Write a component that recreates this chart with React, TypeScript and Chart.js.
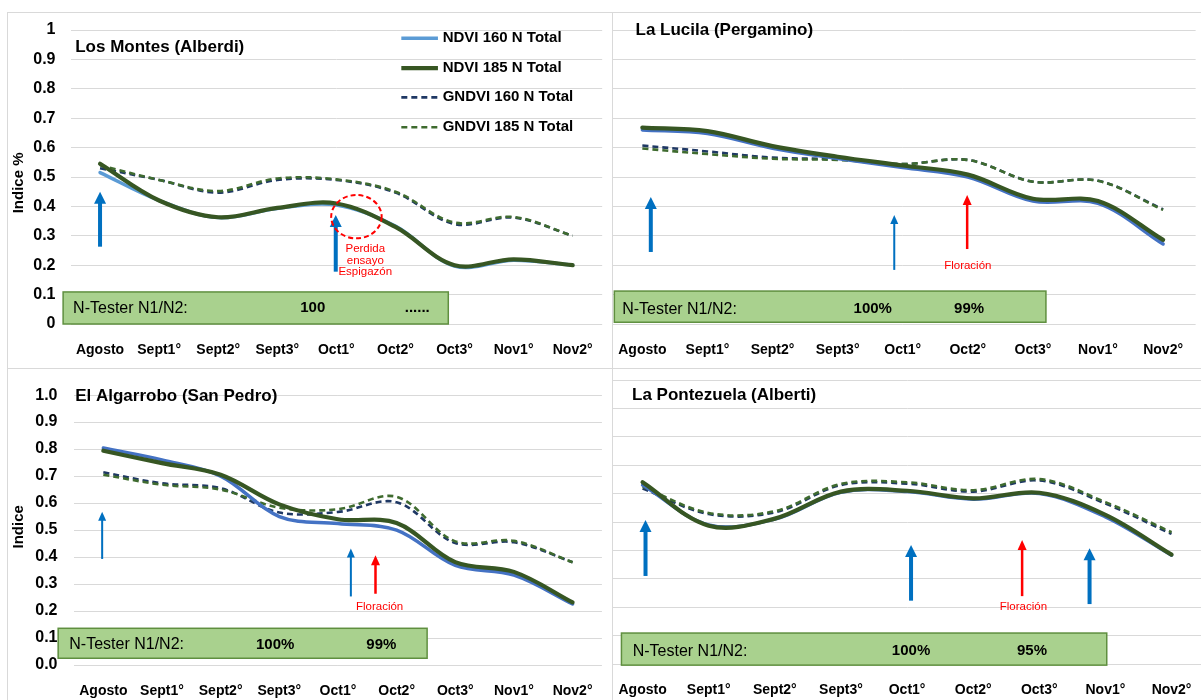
import React, { useEffect, useRef } from 'react';
import { Chart, registerables } from 'chart.js';

Chart.register(...registerables);

// ---------------- DATA ----------------
const categories = ['Agosto', 'Sept1°', 'Sept2°', 'Sept3°', 'Oct1°', 'Oct2°', 'Oct3°', 'Nov1°', 'Nov2°'];
const seriesNames = ['NDVI 160 N Total', 'NDVI 185 N Total', 'GNDVI 160 N Total', 'GNDVI 185 N Total'];

const losMontesNdvi160 = [0.515, 0.42, 0.362, 0.393, 0.405, 0.333, 0.197, 0.217, 0.2];
const losMontesNdvi185 = [0.545, 0.42, 0.363, 0.395, 0.41, 0.33, 0.2, 0.22, 0.2];
const losMontesGndvi160 = [0.53, 0.49, 0.447, 0.49, 0.49, 0.447, 0.34, 0.362, 0.3];
const losMontesGndvi185 = [0.54, 0.49, 0.452, 0.495, 0.492, 0.45, 0.345, 0.364, 0.3];

const laLucilaNdvi160 = [0.66, 0.648, 0.598, 0.563, 0.532, 0.5, 0.418, 0.41, 0.272];
const laLucilaNdvi185 = [0.668, 0.656, 0.605, 0.569, 0.539, 0.508, 0.426, 0.418, 0.286];
const laLucilaGndvi160 = [0.607, 0.587, 0.566, 0.56, 0.544, 0.558, 0.484, 0.487, 0.39];
const laLucilaGndvi185 = [0.597, 0.578, 0.562, 0.558, 0.544, 0.558, 0.484, 0.487, 0.388];

const algarroboNdvi160 = [0.804, 0.76, 0.7, 0.55, 0.524, 0.5, 0.369, 0.333, 0.226];
const algarroboNdvi185 = [0.794, 0.748, 0.705, 0.595, 0.54, 0.526, 0.381, 0.345, 0.232];
const algarroboGndvi160 = [0.714, 0.673, 0.655, 0.565, 0.567, 0.603, 0.452, 0.455, 0.381];
const algarroboGndvi185 = [0.705, 0.668, 0.65, 0.583, 0.577, 0.623, 0.458, 0.46, 0.381];

const pontezuelaNdvi160 = [0.63, 0.49, 0.51, 0.605, 0.607, 0.58, 0.6, 0.518, 0.383];
const pontezuelaNdvi185 = [0.64, 0.487, 0.512, 0.607, 0.61, 0.583, 0.603, 0.525, 0.385];
const pontezuelaGndvi160 = [0.618, 0.528, 0.534, 0.63, 0.635, 0.607, 0.646, 0.565, 0.458];
const pontezuelaGndvi185 = [0.624, 0.532, 0.538, 0.634, 0.64, 0.612, 0.651, 0.57, 0.464];

const yTickLabelsPlain = ['0', '0.1', '0.2', '0.3', '0.4', '0.5', '0.6', '0.7', '0.8', '0.9', '1'];
const yTickLabelsDecimal = ['0.0', '0.1', '0.2', '0.3', '0.4', '0.5', '0.6', '0.7', '0.8', '0.9', '1.0'];

const nTesterLabel = 'N-Tester N1/N2:';
const losMontesNTester = ['100', '......'];
const laLucilaNTester = ['100%', '99%'];
const algarroboNTester = ['100%', '99%'];
const pontezuelaNTester = ['100%', '95%'];

// ---------------- STYLE ----------------
const FONT = "'Liberation Sans', Arial, Helvetica, sans-serif";
const seriesColors = ['#5B9BD5', '#375623', '#1F3864', '#3F6B2F'];
const seriesWidths = [3.5, 4.2, 2.6, 2.6];
const seriesDashes: number[][] = [[], [], [6, 4], [6, 4]];
const seriesOrder = [2, 1, 4, 3];
const BLUE = '#0070C0';
const RED = '#FF0000';
const BOX_FILL = '#A9D18E';
const BOX_EDGE = '#5F8F3F';
const GRID = '#D9D9D9';

type Arrow = { i: number; from: number; to: number; color: string; shaft: number; headW: number; headL: number };
type Note = { i: number; v: number; text: string; color: string; font: string; align: CanvasTextAlign };

const THICK = { shaft: 4, headW: 12, headL: 12 };
const THIN = { shaft: 2, headW: 8, headL: 9 };
const MED = { shaft: 2.5, headW: 9, headL: 10 };

type Spec = {
  title: string;
  values: number[][];
  ndvi160Color: string;
  clip: { l: number; t: number; w: number; h: number };
  canvas: { l: number; t: number; w: number; h: number };
  area: { L: number; R: number; T: number; B: number };
  showY: boolean;
  yLabels: string[];
  yTickPad: number;
  xTickPad: number;
  yTitle?: { text: string; x: number; v: number };
  titlePos: { i: number; v: number };
  box: { i0: number; i1: number; v0: number; v1: number };
  boxTexts: { i: number; text: string; bold: boolean; align: CanvasTextAlign }[];
  boxTextV: number;
  arrows: Arrow[];
  notes: Note[];
  ellipse?: { i: number; v: number; ri: number; rv: number };
  legend?: { i0: number; i1: number; iText: number; rows: number[] };
};

const redNote = `11.5px ${FONT}`;

const specs: Spec[] = [
  {
    title: 'Los Montes (Alberdi)',
    values: [losMontesNdvi160, losMontesNdvi185, losMontesGndvi160, losMontesGndvi185],
    ndvi160Color: '#5B9BD5',
    clip: { l: 0, t: 0, w: 611, h: 368 },
    canvas: { l: 0, t: 0, w: 611, h: 368 },
    area: { L: 70.5, R: 603, T: 30, B: 324 },
    showY: true,
    yLabels: yTickLabelsPlain,
    yTickPad: 15,
    xTickPad: 18,
    yTitle: { text: 'Indice %', x: 18.5, v: 0.48 },
    titlePos: { i: -0.42, v: 0.942 },
    box: { i0: -0.625, i1: 5.895, v0: 0.109, v1: 0 },
    boxTexts: [
      { i: -0.456, text: nTesterLabel, bold: false, align: 'left' },
      { i: 3.6, text: losMontesNTester[0], bold: true, align: 'center' },
      { i: 5.37, text: losMontesNTester[1], bold: true, align: 'center' },
    ],
    boxTextV: 0.054,
    arrows: [
      { i: 0, from: 0.263, to: 0.45, color: BLUE, ...THICK },
      { i: 3.99, from: 0.178, to: 0.371, color: BLUE, ...THICK },
    ],
    notes: [
      { i: 4.49, v: 0.254, text: 'Perdida', color: RED, font: redNote, align: 'center' },
      { i: 4.49, v: 0.215, text: 'ensayo', color: RED, font: redNote, align: 'center' },
      { i: 4.49, v: 0.177, text: 'Espigazón', color: RED, font: redNote, align: 'center' },
    ],
    ellipse: { i: 4.34, v: 0.365, ri: 0.427, rv: 0.0737 },
    legend: { i0: 5.1, i1: 5.72, iText: 5.8, rows: [0.972, 0.87, 0.771, 0.669] },
  },
  {
    title: 'La Lucila (Pergamino)',
    values: [laLucilaNdvi160, laLucilaNdvi185, laLucilaGndvi160, laLucilaGndvi185],
    ndvi160Color: '#4472C4',
    clip: { l: 612, t: 0, w: 589, h: 368 },
    canvas: { l: 600, t: 0, w: 601, h: 368 },
    area: { L: 608.5, R: 1200, T: 30, B: 324 },
    showY: false,
    yLabels: yTickLabelsPlain,
    yTickPad: 15,
    xTickPad: 18,
    titlePos: { i: -0.105, v: 1.0 },
    box: { i0: -0.43, i1: 6.2, v0: 0.112, v1: 0.006 },
    boxTexts: [
      { i: -0.31, text: nTesterLabel, bold: false, align: 'left' },
      { i: 3.54, text: laLucilaNTester[0], bold: true, align: 'center' },
      { i: 5.02, text: laLucilaNTester[1], bold: true, align: 'center' },
    ],
    boxTextV: 0.05,
    arrows: [
      { i: 0.13, from: 0.245, to: 0.432, color: BLUE, ...THICK },
      { i: 3.87, from: 0.184, to: 0.371, color: BLUE, ...THIN },
      { i: 4.99, from: 0.255, to: 0.439, color: RED, ...MED },
    ],
    notes: [{ i: 5.0, v: 0.197, text: 'Floración', color: RED, font: redNote, align: 'center' }],
  },
  {
    title: 'El Algarrobo (San Pedro)',
    values: [algarroboNdvi160, algarroboNdvi185, algarroboGndvi160, algarroboGndvi185],
    ndvi160Color: '#4472C4',
    clip: { l: 0, t: 369, w: 611, h: 331 },
    canvas: { l: 0, t: 369, w: 611, h: 331 },
    area: { L: 74, R: 602, T: 385, B: 665 },
    showY: true,
    yLabels: yTickLabelsDecimal,
    yTickPad: 16.5,
    xTickPad: 18,
    yTitle: { text: 'Indice', x: 19, v: 0.512 },
    titlePos: { i: -0.48, v: 0.994 },
    box: { i0: -0.77, i1: 5.52, v0: 0.136, v1: 0.025 },
    boxTexts: [
      { i: -0.58, text: nTesterLabel, bold: false, align: 'left' },
      { i: 2.93, text: algarroboNTester[0], bold: true, align: 'center' },
      { i: 4.74, text: algarroboNTester[1], bold: true, align: 'center' },
    ],
    boxTextV: 0.076,
    arrows: [
      { i: -0.02, from: 0.393, to: 0.568, color: BLUE, ...THIN },
      { i: 4.22, from: 0.254, to: 0.432, color: BLUE, ...THIN },
      { i: 4.64, from: 0.264, to: 0.407, color: RED, ...MED },
    ],
    notes: [{ i: 4.71, v: 0.214, text: 'Floración', color: RED, font: redNote, align: 'center' }],
  },
  {
    title: 'La Pontezuela (Alberti)',
    values: [pontezuelaNdvi160, pontezuelaNdvi185, pontezuelaGndvi160, pontezuelaGndvi185],
    ndvi160Color: '#4472C4',
    clip: { l: 612, t: 369, w: 589, h: 331 },
    canvas: { l: 600, t: 369, w: 610, h: 331 },
    area: { L: 609, R: 1204.6, T: 380, B: 664 },
    showY: false,
    yLabels: yTickLabelsDecimal,
    yTickPad: 15,
    xTickPad: 18,
    titlePos: { i: -0.16, v: 0.945 },
    box: { i0: -0.32, i1: 7.02, v0: 0.109, v1: -0.004 },
    boxTexts: [
      { i: -0.15, text: nTesterLabel, bold: false, align: 'left' },
      { i: 4.06, text: pontezuelaNTester[0], bold: true, align: 'center' },
      { i: 5.89, text: pontezuelaNTester[1], bold: true, align: 'center' },
    ],
    boxTextV: 0.045,
    arrows: [
      { i: 0.044, from: 0.31, to: 0.507, color: BLUE, ...THICK },
      { i: 4.06, from: 0.223, to: 0.419, color: BLUE, ...THICK },
      { i: 5.74, from: 0.239, to: 0.437, color: RED, ...MED },
      { i: 6.76, from: 0.211, to: 0.408, color: BLUE, ...THICK },
    ],
    notes: [{ i: 5.76, v: 0.2, text: 'Floración', color: RED, font: redNote, align: 'center' }],
  },
];

function buildDatasets(values: number[][], ndvi160Color: string) {
  return seriesNames.map((name, k) => {
    const color = k === 0 ? ndvi160Color : seriesColors[k];
    return {
      label: name,
      data: values[k],
      borderColor: color,
      backgroundColor: color,
      borderWidth: seriesWidths[k],
      borderDash: seriesDashes[k],
      borderCapStyle: seriesDashes[k].length ? 'butt' : 'round',
      pointRadius: 0,
      pointHoverRadius: 0,
      tension: 0.35,
      fill: false,
      order: seriesOrder[k],
    };
  });
}

function drawArrow(ctx: CanvasRenderingContext2D, x: number, yb: number, yt: number, a: Arrow) {
  ctx.save();
  ctx.fillStyle = a.color;
  ctx.fillRect(x - a.shaft / 2, yt + a.headL - 1, a.shaft, yb - yt - a.headL + 1);
  ctx.beginPath();
  ctx.moveTo(x, yt);
  ctx.lineTo(x + a.headW / 2, yt + a.headL);
  ctx.lineTo(x - a.headW / 2, yt + a.headL);
  ctx.closePath();
  ctx.fill();
  ctx.restore();
}

function notesPlugin(spec: Spec) {
  return {
    id: 'notes',
    afterDraw(chart: any) {
      const ctx: CanvasRenderingContext2D = chart.ctx;
      const X = (i: number) => chart.scales.x.getPixelForValue(i);
      const Y = (v: number) => chart.scales.y.getPixelForValue(v);
      ctx.save();
      ctx.textBaseline = 'middle';

      // N-Tester box
      const bx0 = X(spec.box.i0), bx1 = X(spec.box.i1);
      const by0 = Y(spec.box.v0), by1 = Y(spec.box.v1);
      ctx.fillStyle = BOX_FILL;
      ctx.fillRect(bx0, by0, bx1 - bx0, by1 - by0);
      ctx.strokeStyle = BOX_EDGE;
      ctx.lineWidth = 1.5;
      ctx.strokeRect(bx0, by0, bx1 - bx0, by1 - by0);
      spec.boxTexts.forEach((t) => {
        ctx.font = `${t.bold ? 'bold ' : ''}${t.bold ? 15 : 16}px ${FONT}`;
        ctx.fillStyle = '#000';
        ctx.textAlign = t.align;
        ctx.fillText(t.text, X(t.i), Y(spec.boxTextV));
      });

      // arrows
      spec.arrows.forEach((a) => drawArrow(ctx, X(a.i), Y(a.from), Y(a.to), a));

      // notes
      spec.notes.forEach((n) => {
        ctx.font = n.font;
        ctx.fillStyle = n.color;
        ctx.textAlign = n.align;
        ctx.fillText(n.text, X(n.i), Y(n.v));
      });

      // dashed circle
      if (spec.ellipse) {
        const e = spec.ellipse;
        const cx = X(e.i), cy = Y(e.v);
        const rx = X(e.i + e.ri) - cx;
        const ry = cy - Y(e.v + e.rv);
        ctx.beginPath();
        ctx.setLineDash([5, 3]);
        ctx.strokeStyle = RED;
        ctx.lineWidth = 2;
        ctx.ellipse(cx, cy, rx, ry, 0, 0, Math.PI * 2);
        ctx.stroke();
        ctx.setLineDash([]);
      }

      // title
      ctx.font = `bold 17px ${FONT}`;
      ctx.fillStyle = '#000';
      ctx.textAlign = 'left';
      ctx.fillText(spec.title, X(spec.titlePos.i), Y(spec.titlePos.v));

      // y axis title
      if (spec.yTitle) {
        ctx.save();
        ctx.translate(spec.yTitle.x, Y(spec.yTitle.v));
        ctx.rotate(-Math.PI / 2);
        ctx.font = `bold 15px ${FONT}`;
        ctx.textAlign = 'center';
        ctx.fillStyle = '#000';
        ctx.fillText(spec.yTitle.text, 0, 0);
        ctx.restore();
      }

      // legend
      if (spec.legend) {
        const lg = spec.legend;
        chart.data.datasets.forEach((ds: any, k: number) => {
          const yy = Y(lg.rows[k]);
          ctx.beginPath();
          ctx.strokeStyle = ds.borderColor;
          ctx.lineWidth = ds.borderWidth;
          ctx.setLineDash(ds.borderDash || []);
          ctx.lineCap = 'butt';
          ctx.moveTo(X(lg.i0), yy);
          ctx.lineTo(X(lg.i1), yy);
          ctx.stroke();
          ctx.setLineDash([]);
          ctx.font = `bold 15px ${FONT}`;
          ctx.fillStyle = '#000';
          ctx.textAlign = 'left';
          ctx.fillText(ds.label, X(lg.iText), yy);
        });
      }
      ctx.restore();
    },
  };
}

function Panel({ spec }: { spec: Spec }) {
  const ref = useRef<HTMLCanvasElement | null>(null);
  useEffect(() => {
    const canvas = ref.current;
    if (!canvas) return;
    const yW = spec.area.L - spec.canvas.l;
    const xH = spec.canvas.t + spec.canvas.h - spec.area.B;
    const chart = new Chart(canvas, {
      type: 'line',
      data: { labels: categories, datasets: buildDatasets(spec.values, spec.ndvi160Color) as any },
      options: {
        responsive: false,
        animation: false,
        devicePixelRatio: 1,
        events: [],
        layout: {
          padding: {
            left: 0,
            top: spec.area.T - spec.canvas.t,
            right: spec.canvas.l + spec.canvas.w - spec.area.R,
            bottom: 0,
          },
        },
        plugins: { legend: { display: false }, tooltip: { enabled: false }, title: { display: false } },
        scales: {
          x: {
            type: 'category',
            offset: true,
            grid: { display: false, drawTicks: false },
            border: { display: false },
            ticks: {
              autoSkip: false,
              maxRotation: 0,
              minRotation: 0,
              padding: spec.xTickPad,
              color: '#000',
              font: { family: FONT, size: 14, weight: 'bold' },
            },
            afterFit: (s: any) => {
              s.height = xH;
            },
          },
          y: {
            min: 0,
            max: 1,
            border: { display: false },
            grid: { color: GRID, lineWidth: 1, drawTicks: false },
            ticks: {
              display: spec.showY,
              stepSize: 0.1,
              padding: spec.yTickPad,
              color: '#000',
              font: { family: FONT, size: 16, weight: 'bold' },
              callback: (v: any) => spec.yLabels[Math.round(Number(v) * 10)],
            },
            afterFit: (s: any) => {
              s.width = yW;
            },
          },
        },
      } as any,
      plugins: [notesPlugin(spec)],
    });
    return () => chart.destroy();
  }, [spec]);

  return (
    <div
      style={{
        position: 'absolute',
        left: spec.clip.l,
        top: spec.clip.t,
        width: spec.clip.w,
        height: spec.clip.h,
        overflow: 'hidden',
      }}
    >
      <canvas
        ref={ref}
        width={spec.canvas.w}
        height={spec.canvas.h}
        style={{
          position: 'absolute',
          left: spec.canvas.l - spec.clip.l,
          top: spec.canvas.t - spec.clip.t,
          width: spec.canvas.w,
          height: spec.canvas.h,
        }}
      />
    </div>
  );
}

const frameLine = (l: number, t: number, w: number, h: number): React.CSSProperties => ({
  position: 'absolute',
  left: l,
  top: t,
  width: w,
  height: h,
  background: GRID,
});

export default function App() {
  return (
    <div
      style={{
        position: 'absolute',
        left: 0,
        top: 0,
        width: 1201,
        height: 700,
        overflow: 'hidden',
        background: '#fff',
      }}
    >
      {specs.map((s, k) => (
        <Panel key={k} spec={s} />
      ))}
      <div style={frameLine(7, 12, 1194, 1)} />
      <div style={frameLine(7, 12, 1, 688)} />
      <div style={frameLine(612, 12, 1, 688)} />
      <div style={frameLine(7, 368, 1194, 1)} />
    </div>
  );
}
